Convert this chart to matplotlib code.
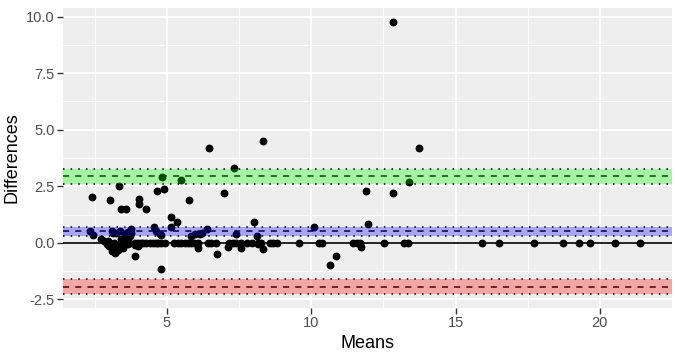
import matplotlib
matplotlib.use("Agg")
import matplotlib.pyplot as plt
import numpy as np

# ---- data ----
scatter_x = [12.83, 6.47, 8.33, 13.75, 7.33, 4.84, 5.47, 13.38, 2.41, 3.04, 3.34, 4.03, 4.03,
             3.42, 3.57, 4.27, 4.65, 4.90, 5.75, 6.99, 11.91, 12.83, 5.14, 5.36, 5.13, 4.54,
             8.01, 6.38, 10.11, 11.95, 4.80, 3.90, 6.72, 8.33, 10.66, 10.86, 8.12, 4.78]
scatter_y = [9.78, 4.18, 4.51, 4.18, 3.30, 2.91, 2.79, 2.71, 2.03, 1.91, 2.52, 1.94, 1.72,
             1.51, 1.51, 1.51, 2.28, 2.40, 1.91, 2.20, 2.29, 2.20, 1.13, 0.90, 0.71, 0.72,
             0.90, 0.62, 0.70, 0.82, -1.16, -0.58, -0.51, -0.26, -0.97, -0.58, 0.30, 0.33]

bias_x = [2.35, 2.45, 3.08, 3.37, 3.66, 3.77, 4.63, 4.75, 5.84, 5.98, 6.13, 6.22, 7.39,
          3.14, 3.25, 3.54]
bias_y = [0.51, 0.33, 0.51, 0.51, 0.47, 0.59, 0.51, 0.37, 0.32, 0.41, 0.41, 0.44, 0.41,
          0.44, 0.44, 0.37]

cluster_x = [2.71, 2.83, 2.91, 2.97, 3.02, 3.08, 3.14, 3.20, 3.25, 3.31, 3.37, 3.42, 3.48,
             3.54, 3.59, 3.65, 3.71, 3.77, 3.00, 3.18, 3.30, 3.48, 3.66, 3.99,
             6.07, 7.13, 7.55, 8.14, 11.73, 11.69, 3.90]
cluster_y = [0.15, 0.07, -0.07, 0.07, 0.00, -0.37, -0.29, -0.44, -0.37, -0.15, 0.00, 0.15,
             -0.15, -0.07, 0.15, 0.07, 0.29, 0.44, -0.15, 0.00, -0.30, -0.22, -0.07, -0.15,
             -0.22, -0.19, -0.22, -0.07, -0.18, -0.07, -0.10]

zero_x = [3.91, 4.00, 4.09, 4.18, 4.28, 4.40, 4.52, 4.63, 4.69, 4.80, 4.92, 5.26, 5.38, 5.49,
          5.61, 5.72, 5.83, 5.95, 6.07, 6.41, 6.53, 6.70, 7.16, 7.28, 7.39, 7.56, 7.79, 7.93,
          8.14, 8.25, 8.57, 8.69, 8.80, 9.57, 10.26, 10.38, 11.45, 11.59, 11.70, 12.53, 13.22,
          13.34, 15.93, 16.51, 17.71, 18.71, 19.29, 19.67, 20.51, 21.39]
zero_y = [0.0] * len(zero_x)

bias = 0.51
bias_ci = (0.32, 0.69)
upper_loa = 2.96
upper_ci = (2.61, 3.28)
lower_loa = -1.94
lower_ci = (-2.28, -1.59)

x_ticks = [5, 10, 15, 20]
y_ticks = [-2.5, 0.0, 2.5, 5.0, 7.5, 10.0]
y_ticklabels = ["-2.5", "0.0", "2.5", "5.0", "7.5", "10.0"]

# ---- figure ----
plt.rcParams['font.family'] = ['Liberation Sans', 'DejaVu Sans']
fig = plt.figure(figsize=(6.75, 3.58), dpi=100)
ax = fig.add_axes([63/675, 1-308/358, (672-63)/675, (308-8)/358])
ax.set_facecolor('#EEEEEE')

xs = np.array(scatter_x + bias_x + cluster_x + zero_x)
ys = np.array(scatter_y + bias_y + cluster_y + zero_y)

yall = np.concatenate([ys, [lower_ci[0], upper_ci[1]]])
xr = xs.max() - xs.min()
yr = yall.max() - yall.min()
ax.set_xlim(xs.min() - 0.05*xr, xs.max() + 0.05*xr)
ax.set_ylim(yall.min() - 0.05*yr, yall.max() + 0.05*yr)

# grid
ax.set_xticks(x_ticks)
ax.set_yticks(y_ticks)
ax.set_yticklabels(y_ticklabels)
ax.set_xticks([2.5, 7.5, 12.5, 17.5, 22.5], minor=True)
ax.set_yticks([-1.25, 1.25, 3.75, 6.25, 8.75], minor=True)
ax.grid(which='major', color='white', linewidth=1.4, zorder=0)
ax.grid(which='minor', color='white', linewidth=0.7, zorder=0)
ax.set_axisbelow(True)
ax.tick_params(which='minor', length=0)
ax.tick_params(which='major', length=4, width=1, color='#333333', labelcolor='#4D4D4D',
               labelsize=10.5, pad=2)
for s in ax.spines.values():
    s.set_visible(False)

# zero line
ax.axhline(0, color='black', linewidth=1.2, zorder=2)

# points
ax.scatter(xs, ys, s=32, color='black', linewidths=0, zorder=3)

# dashed lines
for v in [bias, upper_loa, lower_loa]:
    ax.axhline(v, color='black', linewidth=1.1, linestyle=(0, (4, 4)), zorder=4)

# bands
ax.axhspan(bias_ci[0], bias_ci[1], color=(0, 0, 1), alpha=0.3, linewidth=0, zorder=5)
ax.axhspan(upper_ci[0], upper_ci[1], color=(0, 1, 0), alpha=0.3, linewidth=0, zorder=5)
ax.axhspan(lower_ci[0], lower_ci[1], color=(1, 0, 0), alpha=0.3, linewidth=0, zorder=5)

for lo, hi in [bias_ci, upper_ci, lower_ci]:
    for v in (lo, hi):
        ax.axhline(v, color='black', linewidth=1.1, linestyle=(0, (1, 4)), zorder=6)

ax.set_xlabel('Means', fontsize=13, color='black', labelpad=3)
ax.set_ylabel('Differences', fontsize=13, color='black', labelpad=4)

fig.savefig('out.png', dpi=100)
